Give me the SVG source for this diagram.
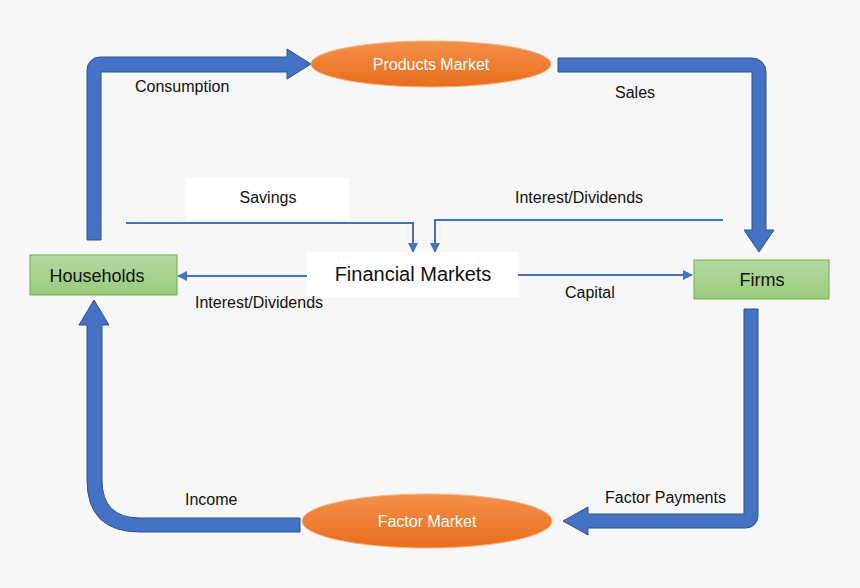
<svg xmlns="http://www.w3.org/2000/svg" width="860" height="588" viewBox="0 0 860 588">
<defs>
<linearGradient id="og" x1="0" y1="0" x2="0" y2="1"><stop offset="0" stop-color="#F4904A"/><stop offset="1" stop-color="#E86E1C"/></linearGradient>
<linearGradient id="gg" x1="0" y1="0" x2="0" y2="1"><stop offset="0" stop-color="#B5D9A0"/><stop offset="1" stop-color="#9BCB7E"/></linearGradient>
<marker id="ah" markerWidth="10" markerHeight="10" refX="9" refY="5" orient="auto" markerUnits="userSpaceOnUse"><path d="M0,0 L10,5 L0,10 Z" fill="#4472C4"/></marker>
</defs>
<style>
.big{fill:#4472C4;stroke:#2F528F;stroke-width:1}
.thin{fill:none;stroke:#4472C4;stroke-width:2;marker-end:url(#ah)}
text{font-family:"Liberation Sans",Arial,sans-serif;font-size:16px;fill:#111}
.w{fill:#fff}
</style>
<rect width="860" height="588" fill="#F7F7F7"/>
<g id="connectors">
<path class="big" d="M87,240 L87,70 A13,13 0 0 1 100,57 L287,57 L287,49 L311,64 L287,79 L287,72 L101,72 L101,240 Z"/>
<path class="big" d="M558,58 L752,58 A14,14 0 0 1 766,72 L766,230 L774,230 L759,252 L744,230 L752,230 L752,72 L558,72 Z"/>
<path class="big" d="M744,309 L758,309 L758,516 A12,12 0 0 1 746,528 L588,528 L588,535 L563,521 L588,507 L588,514 L744,514 Z"/>
<path class="big" d="M300,518 L140,518 Q102,518 102,480 L102,325 L109,325 L94,300 L79,325 L87,325 L87,480 Q87,532 140,532 L300,532 Z"/>
<path class="thin" d="M126,223 L413,223 L413,252"/>
<path class="thin" d="M723,220 L435,220 L435,252"/>
<path class="thin" d="M307,276 L178,276"/>
<path class="thin" d="M518,275 L692,275"/>
</g>
<g id="savings-label"><rect x="186" y="178" width="163" height="42" fill="#fff"/><text x="268" y="203" text-anchor="middle">Savings</text></g>
<g id="products"><ellipse cx="431" cy="64" rx="120" ry="23" fill="url(#og)" stroke="#F4B183" stroke-width="1"/><text class="w" x="431" y="70" text-anchor="middle">Products Market</text></g>
<g id="factor"><ellipse cx="427" cy="521" rx="125" ry="27" fill="url(#og)" stroke="#F4B183" stroke-width="1"/><text class="w" x="427" y="527" text-anchor="middle">Factor Market</text></g>
<g id="households"><rect x="30" y="255" width="147" height="40" fill="url(#gg)" stroke="#70AD47"/><text x="97" y="282" text-anchor="middle" font-size="18" style="font-size:18px">Households</text></g>
<g id="firms"><rect x="694" y="260" width="135" height="39" fill="url(#gg)" stroke="#70AD47"/><text x="762" y="286" text-anchor="middle" style="font-size:18px">Firms</text></g>
<g id="financial"><rect x="307" y="252" width="211" height="45" fill="#fff"/><text x="413" y="281" text-anchor="middle" style="font-size:20px">Financial Markets</text></g>
<g id="labels">
<text x="135" y="92">Consumption</text>
<text x="615" y="98">Sales</text>
<text x="515" y="203">Interest/Dividends</text>
<text x="195" y="308">Interest/Dividends</text>
<text x="565" y="298">Capital</text>
<text x="605" y="503">Factor Payments</text>
<text x="185" y="505">Income</text>
</g>
</svg>
